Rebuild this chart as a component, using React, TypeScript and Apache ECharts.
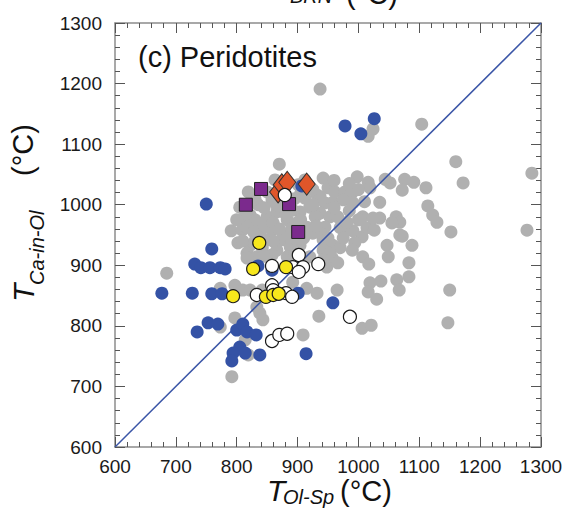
import React, { useEffect, useRef } from 'react';
import * as echarts from 'echarts';

// T(Ol-Sp) [°C], T(Ca-in-Ol) [°C]
const grayPoints: [number, number][] = [
  [937,1191],[870,1067],[1024,1125],[1016,1113],[1104,1133],[1160,1071],[1172,1036],[1285,1052],[1277,958],[1152,955],
  [1114,998],[1122,983],[1129,971],[1111,1028],[1091,1037],[1076,1042],[1072,1024],[1052,1036],[1044,1042],[1035,1004],
  [1016,1037],[1019,1028],[998,1046],[1072,948],[1047,933],[1088,933],[1062,980],[1068,971],[1055,970],[1035,978],
  [1007,914],[1049,914],[1006,947],[994,937],[1007,980],[1014,962],[1026,958],[991,957],[981,958],[970,962],
  [942,1044],[950,1028],[961,1021],[978,1021],[989,1019],[945,1003],[958,1004],[975,1008],[991,1003],[937,986],
  [953,980],[966,980],[981,971],[945,963],[942,942],[958,933],[970,929],[957,912],[1083,904],[1017,902],
  [948,897],[1019,871],[1037,874],[1063,876],[1083,881],[1067,859],[1016,856],[1030,844],[965,859],[1150,859],
  [1147,805],[1006,796],[1021,801],[935,816],[685,887],[773,862],[797,867],[810,859],[822,859],[842,859],
  [892,872],[915,862],[932,854],[833,831],[843,810],[797,813],[773,798],[909,785],[814,777],[819,752],
  [792,716],[814,968],[791,957],[833,971],[802,937],[822,933],[817,920],[833,914],[850,942],[866,925],
  [876,942],[888,930],[925,953],[942,925],[953,920],[942,909],[920,914],[883,914],[966,904],[819,1021],
  [835,1000],[822,983],[805,996],[809,958],[830,975],[850,980],[866,988],[883,975],[904,988],[920,996],
  [932,1016],[929,980],[915,963],[899,970],[876,950],[858,958],[838,953],[937,953],[817,963],[912,1041],
  [850,1021],[937,1013],[1024,978],[1068,950],[838,821],[858,1008],[892,991],[912,1011],[842,929],[858,917],
  [904,933],[879,1000],[901,1033],[863,1041],[817,912],[960,1040],[985,1035],[925,1025],[905,1018],[830,1010],
  [815,985],[828,955],[845,965],[860,970],[870,960],[890,960],[895,945],[910,945],[905,975],[880,985],
  [865,1000],[845,995],[870,1015],[895,1010],[925,1000],[930,965],[860,940],[845,915],[895,918],[810,940],
  [800,975],[830,940],[960,995],[985,990],[1000,975],[950,945],[975,945],[990,925],[1000,1025],[1010,1005]
];

const bluePoints: [number, number][] = [
  [978,1130],[1004,1117],[1026,1142],[750,1001],[759,927],[907,1031],[731,902],[741,896],[756,896],[773,896],
  [781,894],[835,899],[858,892],[677,854],[727,854],[759,853],[776,853],[901,854],[958,838],[735,790],
  [753,805],[769,803],[800,793],[810,803],[817,790],[832,785],[805,765],[794,755],[792,742],[838,752],
  [914,754],[814,755]
];

const yellowPoints: [number, number][] = [
  [837,937],[827,894],[881,897],[794,849],[848,848],[860,851],[869,853]
];

const whitePoints: [number, number][] = [
  [879,1016],[902,917],[858,899],[892,897],[909,897],[902,889],[934,902],[858,867],[860,859],[833,851],
  [881,854],[891,848],[858,775],[870,785],[883,787],[986,815]
];

const squarePoints: [number, number][] = [[840,1026],[815,1000],[886,1001],[901,955]];
const diamondPoints: [number, number][] = [[868,1021],[874,1033],[883,1037],[915,1034]];

const oneToOne: [number, number][] = [[600,600],[1300,1300]];

const FONT = '"Liberation Sans", Arial, Helvetica, sans-serif';

export default function App() {
  const ref = useRef<HTMLDivElement>(null);
  useEffect(() => {
    document.body.style.margin = '0';
    const chart = echarts.init(ref.current!, null, { renderer: 'svg' });
    const axisCommon: any = {
      type: 'value',
      min: 600,
      max: 1300,
      interval: 100,
      axisLine: { onZero: false, lineStyle: { color: '#8c8c8c', width: 1.5 } },
      axisTick: { inside: true, length: 10, lineStyle: { color: '#555', width: 1 } },
      minorTick: { show: true, splitNumber: 5, length: 5, lineStyle: { color: '#555', width: 1 } },
      splitLine: { show: false },
      minorSplitLine: { show: false },
    };
    const fmt = (v: number) => String(v);
    const circleBase = { type: 'scatter', symbol: 'circle', symbolSize: 13, xAxisIndex: 0, yAxisIndex: 0 };
    chart.setOption({
      animation: false,
      backgroundColor: '#ffffff',
      grid: { left: 115, top: 23, width: 426, height: 424, containLabel: false },
      xAxis: [
        { ...axisCommon, position: 'bottom', axisLabel: { fontSize: 19, color: '#1a1a1a', margin: 10, fontFamily: FONT, formatter: fmt } },
        { ...axisCommon, position: 'top', axisLabel: { show: false } },
      ],
      yAxis: [
        { ...axisCommon, position: 'left', axisLabel: { fontSize: 19, color: '#1a1a1a', margin: 13, fontFamily: FONT, formatter: fmt } },
        { ...axisCommon, position: 'right', axisLabel: { show: false } },
      ],
      series: [
        { ...circleBase, name: 'gray', data: grayPoints, itemStyle: { color: '#b0b0b0', opacity: 1 }, z: 2 },
        {
          type: 'line', name: '1:1', data: oneToOne, symbol: 'none', xAxisIndex: 0, yAxisIndex: 0,
          lineStyle: { color: '#3b56a7', width: 1.5 }, z: 3,
        },
        { ...circleBase, name: 'blue', data: bluePoints, itemStyle: { color: '#3452a5', opacity: 1 }, z: 4 },
        {
          type: 'scatter', name: 'square', data: squarePoints, symbol: 'rect', symbolSize: 13, xAxisIndex: 0, yAxisIndex: 0,
          itemStyle: { color: '#7b2a8d', borderColor: '#222', borderWidth: 1, opacity: 1 }, z: 5,
        },
        {
          type: 'scatter', name: 'diamond', data: diamondPoints, symbol: 'diamond', symbolSize: [17, 22], xAxisIndex: 0, yAxisIndex: 0,
          itemStyle: { color: '#e0562a', borderColor: '#333', borderWidth: 1, opacity: 1 }, z: 6,
        },
        { ...circleBase, name: 'white', data: whitePoints, itemStyle: { color: '#ffffff', borderColor: '#1a1a1a', borderWidth: 1.2, opacity: 1 }, z: 7 },
        { ...circleBase, name: 'yellow', data: yellowPoints, itemStyle: { color: '#f7e71c', borderColor: '#1a1a1a', borderWidth: 1.2, opacity: 1 }, z: 8 },
      ],
      graphic: [
        { type: 'text', x: 138, y: 57, style: { text: '(c) Peridotites', font: `29px ${FONT}`, fill: '#111', align: 'left', verticalAlign: 'middle' }, z: 10 },
        // x axis title
        { type: 'text', x: 267, y: 490, style: { text: 'T', font: `italic 30px ${FONT}`, fill: '#111', align: 'left', verticalAlign: 'middle' } },
        { type: 'text', x: 283, y: 497, style: { text: 'Ol-Sp', font: `italic 20px ${FONT}`, fill: '#111', align: 'left', verticalAlign: 'middle' } },
        { type: 'text', x: 340, y: 491, style: { text: '(°C)', font: `29px ${FONT}`, fill: '#111', align: 'left', verticalAlign: 'middle' } },
        // y axis title (rotated)
        { type: 'text', x: 23, y: 302, rotation: Math.PI / 2, style: { text: 'T', font: `italic 30px ${FONT}`, fill: '#111', align: 'left', verticalAlign: 'middle' } },
        { type: 'text', x: 37, y: 285, rotation: Math.PI / 2, style: { text: 'Ca-in-Ol', font: `italic 20px ${FONT}`, fill: '#111', align: 'left', verticalAlign: 'middle' } },
        { type: 'text', x: 23, y: 176, rotation: Math.PI / 2, style: { text: '(°C)', font: `29px ${FONT}`, fill: '#111', align: 'left', verticalAlign: 'middle' } },
        // cropped title of the panel above (cut off at the top edge, as in the reference)
        { type: 'text', x: 290, y: -4, style: { text: 'BRN', font: `italic 20px ${FONT}`, fill: '#111', align: 'left', verticalAlign: 'middle' } },
        { type: 'text', x: 346, y: -6, style: { text: '(°C)', font: `29px ${FONT}`, fill: '#111', align: 'left', verticalAlign: 'middle' } },
      ],
    });
    return () => chart.dispose();
  }, []);
  return <div ref={ref} style={{ width: 568, height: 513 }} />;
}
